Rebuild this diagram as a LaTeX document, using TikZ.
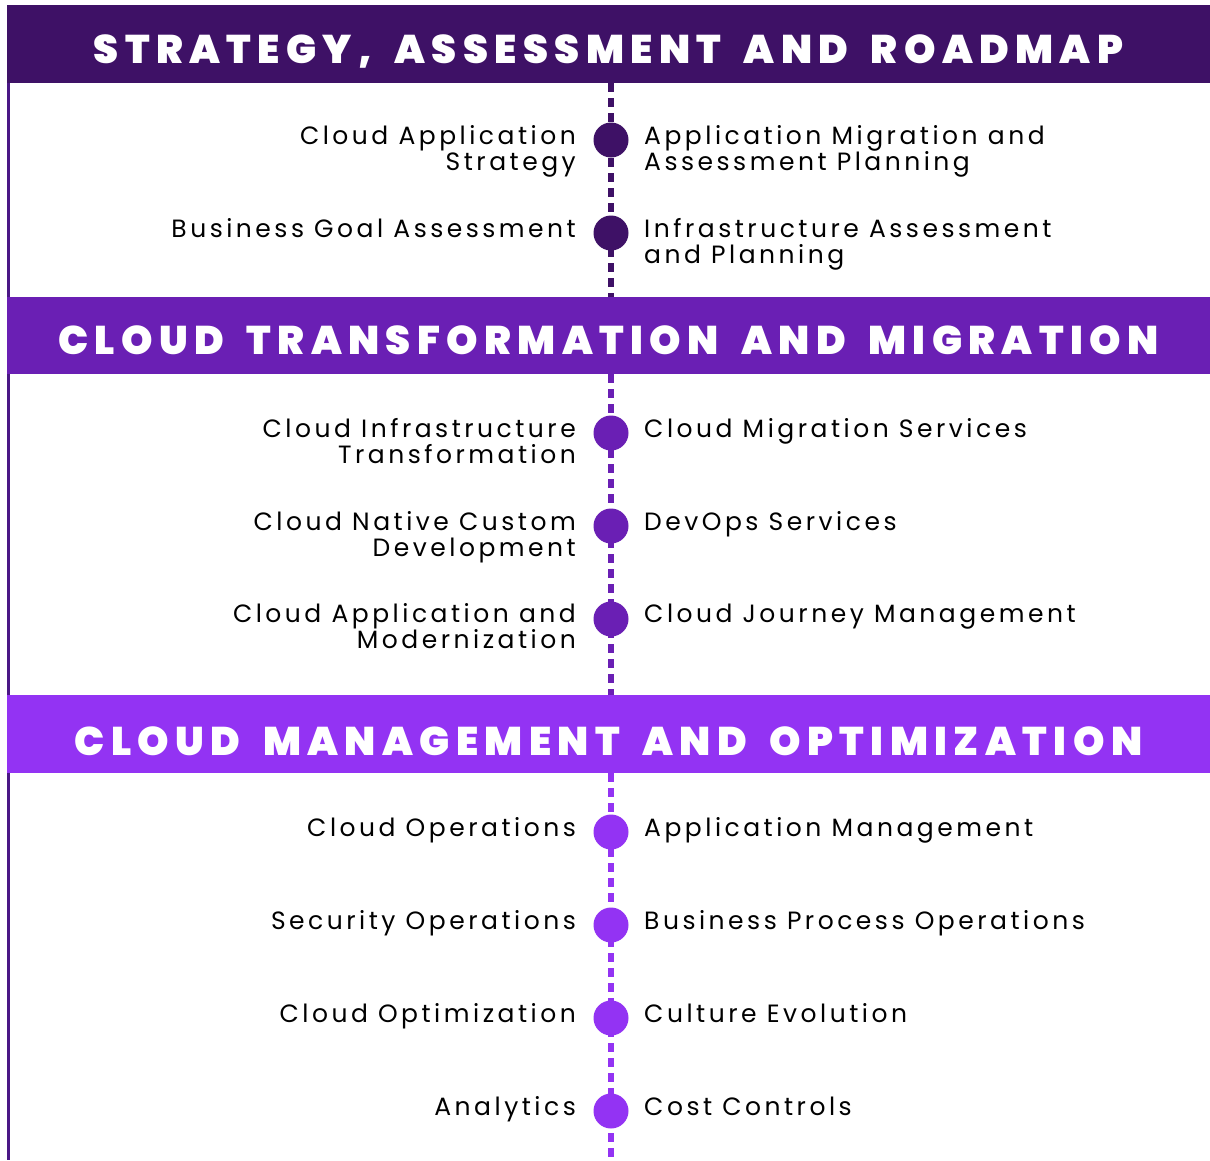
\documentclass[tikz,border=0pt]{standalone}
\usepackage{fontspec}
\setmainfont{Poppins}[LetterSpace=14]
\IfFontExistsTF{Poppins Black}
  {\newfontfamily\hdrfont{Poppins Black}[LetterSpace=16,WordSpace=1.7]\newcommand\hdrweight{}}
  {\newfontfamily\hdrfont{Poppins}[LetterSpace=20,WordSpace=1.7]\newcommand\hdrweight{\bfseries}}
\definecolor{cA}{HTML}{3E1166}
\definecolor{cB}{HTML}{6A1FB4}
\definecolor{cC}{HTML}{9333F3}
\definecolor{cBorder}{HTML}{4A1785}
\newcommand\ltxt[1]{\begin{tabular}[t]{@{}r@{}}#1\end{tabular}}
\newcommand\rtxt[1]{\begin{tabular}[t]{@{}l@{}}#1\end{tabular}}
\begin{document}
\begin{tikzpicture}[x=1pt,y=-1pt,
  band/.style={draw=none, minimum width=1203pt, minimum height=#1, inner sep=0pt, anchor=north west},
  hdr/.style={font=\hdrfont\hdrweight\fontsize{40}{40}\selectfont, text=white, anchor=base, inner sep=0pt},
  lt/.style={font=\fontsize{25}{26}\selectfont, anchor=base east, inner sep=0pt},
  rt/.style={font=\fontsize{25}{26}\selectfont, anchor=base west, inner sep=0pt},
  dotmark/.style={circle, fill=#1, minimum size=35pt, inner sep=0pt},
  spineline/.style={draw=#1, line width=5.5pt, dash pattern=on 9pt off 6pt}
]
\useasboundingbox (0,0) rectangle (1210,1160);
\fill[white] (0,0) rectangle (1210,1160);
% left border
\draw[cBorder, line width=3pt] (8.5,5) -- (8.5,1160);
% bands
\node[band=78pt, fill=cA] (b1) at (7,5) {};
\node[band=77pt, fill=cB] (b2) at (7,297) {};
\node[band=78pt, fill=cC] (b3) at (7,695) {};
\node[hdr] (h1) at (608.5,63) {STRATEGY, ASSESSMENT AND ROADMAP};
\node[hdr] (h2) at (608.5,354) {CLOUD TRANSFORMATION AND MIGRATION};
\node[hdr] (h3) at (608.5,755) {CLOUD MANAGEMENT AND OPTIMIZATION};
% spine
\coordinate (spine) at (611,0);
\coordinate (bottom) at (611,1160);
\draw[spineline=cA] (b1.south -| spine) -- (b2.north -| spine);
\draw[spineline=cB] (b2.south -| spine) -- (b3.north -| spine);
\draw[spineline=cC] (b3.south -| spine) -- (bottom);
% section 1
\node[dotmark=cA] (d11) at (611,140) {};
\node[dotmark=cA] (d12) at (611,233) {};
\node[lt] (l11) at (576,144) {\ltxt{Cloud Application\\Strategy}};
\node[lt] (l12) at (576,237) {\ltxt{Business Goal Assessment}};
\node[rt] (r11) at (644,144) {\rtxt{Application Migration and\\Assessment Planning}};
\node[rt] (r12) at (644,237) {\rtxt{Infrastructure Assessment\\and Planning}};
% section 2
\node[dotmark=cB] (d21) at (611,433) {};
\node[dotmark=cB] (d22) at (611,526) {};
\node[dotmark=cB] (d23) at (611,619) {};
\node[lt] (l21) at (576,437) {\ltxt{Cloud Infrastructure\\Transformation}};
\node[lt] (l22) at (576,530) {\ltxt{Cloud Native Custom\\Development}};
\node[lt] (l23) at (576,622) {\ltxt{Cloud Application and\\Modernization}};
\node[rt] (r21) at (644,437) {\rtxt{Cloud Migration Services}};
\node[rt] (r22) at (644,530) {\rtxt{DevOps Services}};
\node[rt] (r23) at (644,622) {\rtxt{Cloud Journey Management}};
% section 3
\node[dotmark=cC] (d31) at (611,832) {};
\node[dotmark=cC] (d32) at (611,925) {};
\node[dotmark=cC] (d33) at (611,1018) {};
\node[dotmark=cC] (d34) at (611,1111) {};
\node[lt] (l31) at (576,836) {\ltxt{Cloud Operations}};
\node[lt] (l32) at (576,929) {\ltxt{Security Operations}};
\node[lt] (l33) at (576,1022) {\ltxt{Cloud Optimization}};
\node[lt] (l34) at (576,1115) {\ltxt{Analytics}};
\node[rt] (r31) at (644,836) {\rtxt{Application Management}};
\node[rt] (r32) at (644,929) {\rtxt{Business Process Operations}};
\node[rt] (r33) at (644,1022) {\rtxt{Culture Evolution}};
\node[rt] (r34) at (644,1115) {\rtxt{Cost Controls}};
\end{tikzpicture}
\end{document}
